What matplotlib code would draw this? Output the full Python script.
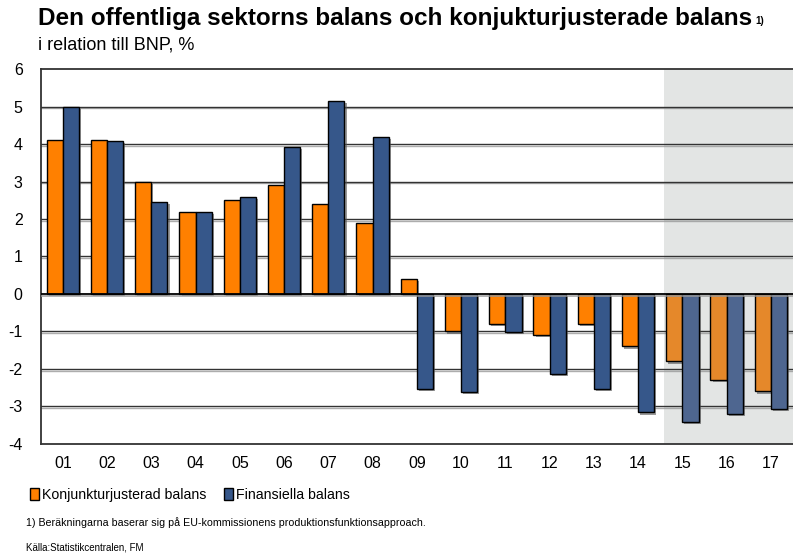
import matplotlib.pyplot as plt
import matplotlib.patheffects as pe
from matplotlib.patches import Patch
import numpy as np

# Data
years = ['01', '02', '03', '04', '05', '06', '07', '08', '09',
         '10', '11', '12', '13', '14', '15', '16', '17']
konjunktur = [4.1, 4.1, 3.0, 2.2, 2.5, 2.9, 2.4, 1.9, 0.4,
              -1.0, -0.8, -1.1, -0.8, -1.4, -1.8, -2.3, -2.6]
finansiell = [5.0, 4.07, 2.45, 2.2, 2.59, 3.93, 5.14, 4.19, -2.53,
              -2.62, -1.01, -2.13, -2.53, -3.16, -3.42, -3.19, -3.06]
n_forecast = 3

plt.rcParams['font.family'] = ['Liberation Sans', 'DejaVu Sans']
plt.rcParams['axes.unicode_minus'] = False

fig = plt.figure(figsize=(7.93, 5.57), dpi=100)
ax = fig.add_axes([0.0513, 0.2029, 0.9487, 0.6732])

x = np.arange(len(years))
w = 0.365
n_hist = len(years) - n_forecast

orange = ['#ff8000'] * n_hist + ['#e5882a'] * n_forecast
blue = ['#36578a'] * n_hist + ['#4e6690'] * n_forecast

# prognos-skuggning
ax.axvspan(n_hist - 1 + 0.58, len(years) - 0.5, color='#e3e5e4', zorder=0, lw=0)

shadow = [pe.SimplePatchShadow(offset=(1.5, -1.5), shadow_rgbFace='#555555', alpha=0.6), pe.Normal()]
ax.bar(x - w / 2, konjunktur, w, color=orange, edgecolor='black', linewidth=1.0,
       zorder=3, path_effects=shadow)
ax.bar(x + w / 2, finansiell, w, color=blue, edgecolor='black', linewidth=1.0,
       zorder=3, path_effects=shadow)

# rutnät
line_shadow = [pe.SimpleLineShadow(offset=(0, -1.2), shadow_color='#999999', alpha=0.8), pe.Normal()]
for yv in range(-3, 6):
    ax.axhline(yv, color='#333333' if yv != 0 else 'black', lw=1.0 if yv != 0 else 1.3,
               zorder=1 if yv != 0 else 4, path_effects=line_shadow)

ax.set_xlim(-0.5, len(years) - 0.5)
ax.set_ylim(-4, 6)
ax.set_yticks(range(-4, 7))
ax.set_xticks(x)
ax.set_xticklabels(years)
ax.tick_params(axis='both', length=0, labelsize=11.5)
ax.tick_params(axis='y', pad=13)
ax.tick_params(axis='x', pad=9)
for s in ['left', 'top', 'bottom']:
    ax.spines[s].set_color('#333333')
    ax.spines[s].set_linewidth(1.3)
ax.spines['right'].set_visible(False)

# rubriker
fig.text(0.048, 0.967, 'Den offentliga sektorns balans och konjukturjusterade balans',
         fontsize=17.5, fontweight='bold', va='center', ha='left')
fig.text(0.952, 0.963, '1)', fontsize=7, fontweight='bold', va='center', ha='left')
fig.text(0.048, 0.919, 'i relation till BNP, %', fontsize=13, va='center', ha='left')

# legend
handles = [Patch(facecolor='#ff8000', edgecolor='black', label='Konjunkturjusterad balans'),
           Patch(facecolor='#36578a', edgecolor='black', label='Finansiella balans')]
fig.legend(handles=handles, loc='center left', bbox_to_anchor=(0.031, 0.112), ncol=2,
           frameon=False, fontsize=10.2, handlelength=0.6, handleheight=1.0,
           handletextpad=0.2, columnspacing=1.3, borderaxespad=0)

fig.text(0.033, 0.062, '1) Beräkningarna baserar sig på EU-kommissionens produktionsfunktionsapproach.',
         fontsize=7.7, va='center', ha='left')
fig.text(0.033, 0.017, 'Källa:Statistikcentralen, FM', fontsize=7, va='center', ha='left')

fig.savefig('out.png', dpi=100)
